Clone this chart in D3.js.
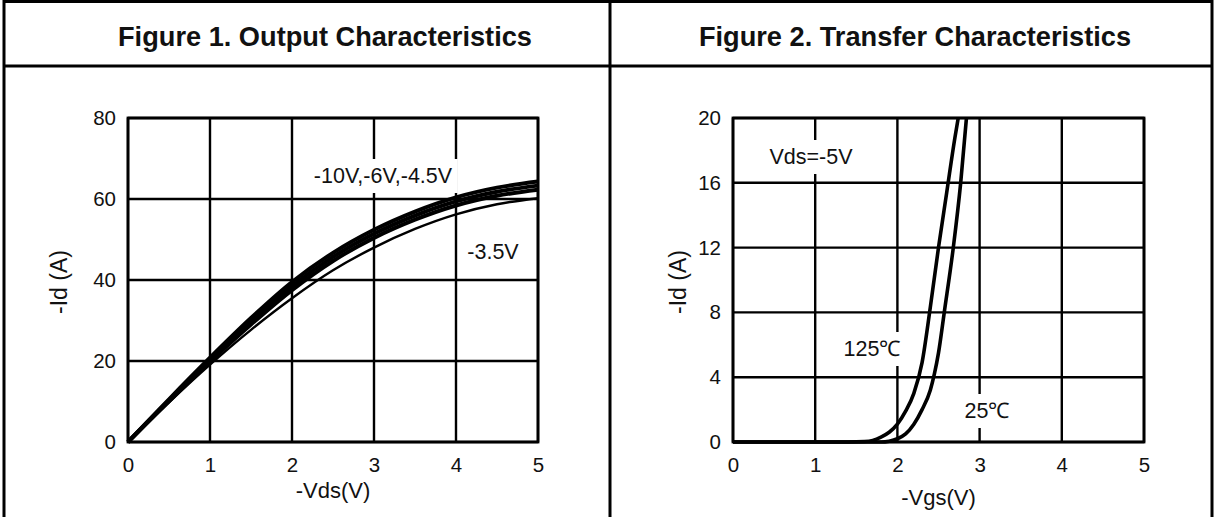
<!DOCTYPE html>
<html><head><meta charset="utf-8">
<script src="https://cdn.jsdelivr.net/npm/d3@7"></script>
<style>body{margin:0;background:#fff}svg{display:block;font-family:"Liberation Sans",Arial,sans-serif}</style>
</head><body><svg id="c" width="1215" height="517"></svg>
<script>
// ---- Data ----
const titles = ["Figure 1. Output Characteristics", "Figure 2. Transfer Characteristics"];
const vdsTicks = [0, 1, 2, 3, 4, 5];
const idTicksL = [0, 20, 40, 60, 80];
const vgsTicks = [0, 1, 2, 3, 4, 5];
const idTicksR = [0, 4, 8, 12, 16, 20];

const vds = [0, 0.5, 1, 1.5, 2, 2.5, 3, 3.5, 4, 4.5, 5];
const id_m10V = [0, 10.55, 20.8, 30.6, 39.5, 46.7, 52.4, 56.9, 60.4, 62.8, 64.3];
const id_m6V  = [0, 10.3, 20.3, 29.8, 38.5, 45.7, 51.4, 55.9, 59.4, 61.8, 63.3];
const id_m45V = [0, 10.05, 19.8, 29.0, 37.5, 44.7, 50.4, 54.9, 58.4, 60.8, 62.3];
const id_m35V = [0, 9.8, 19.1, 27.7, 35.5, 42.4, 48.0, 52.6, 56.2, 58.7, 60.2];

const vgs125 = [0, 1.4, 1.6, 1.7, 1.8, 1.9, 2.0, 2.1, 2.2, 2.3, 2.4, 2.5, 2.6, 2.7, 2.74];
const id125  = [0, 0, 0.03, 0.1, 0.3, 0.6, 1.1, 1.9, 3.0, 4.9, 8.3, 12.0, 15.4, 18.8, 20];
const vgs25  = [0, 1.8, 1.9, 2.0, 2.1, 2.2, 2.3, 2.4, 2.45, 2.5, 2.57, 2.68, 2.77, 2.84];
const id25   = [0, 0, 0.05, 0.2, 0.5, 1.1, 2.0, 3.2, 4.2, 5.5, 8.0, 12.0, 16.0, 20];

const svg = d3.select("#c");
const ink = "#111";

// ---- Table frame ----
const frame = svg.append("g").attr("stroke", "#000").attr("stroke-width", 3);
frame.append("line").attr("x1", 3).attr("x2", 1213).attr("y1", 1.5).attr("y2", 1.5);
frame.append("line").attr("x1", 3).attr("x2", 1213).attr("y1", 66).attr("y2", 66);
[4, 610, 1212].forEach(x => frame.append("line").attr("x1", x).attr("x2", x).attr("y1", 0).attr("y2", 517));

svg.selectAll("text.title").data(titles).join("text").attr("class", "title")
  .attr("x", (d, i) => i === 0 ? 325 : 915).attr("y", 46).attr("text-anchor", "middle")
  .attr("font-size", 27.2).attr("font-weight", "bold").attr("fill", ink).text(d => d);

function panel(cfg) {
  const g = svg.append("g");
  const x = d3.scaleLinear().domain([0, 5]).range([cfg.x0, cfg.x1]);
  const y = d3.scaleLinear().domain([0, cfg.ymax]).range([442, 118]);
  g.append("g").selectAll("line").data(cfg.xt).join("line")
    .attr("x1", d => x(d)).attr("x2", d => x(d)).attr("y1", y(0)).attr("y2", y(cfg.ymax))
    .attr("stroke", "#000").attr("stroke-width", 2.4);
  g.append("g").selectAll("line").data(cfg.yt).join("line")
    .attr("x1", x(0)).attr("x2", x(5)).attr("y1", d => y(d)).attr("y2", d => y(d))
    .attr("stroke", "#000").attr("stroke-width", 2.4);
  g.append("rect").attr("x", x(0)).attr("y", y(cfg.ymax)).attr("width", x(5) - x(0)).attr("height", y(0) - y(cfg.ymax))
    .attr("fill", "none").attr("stroke", "#000").attr("stroke-width", 2.8);
  const ax = g.append("g").attr("transform", `translate(0,${y(0)})`)
    .call(d3.axisBottom(x).tickValues(cfg.xt).tickSize(0).tickPadding(15).tickFormat(d3.format("d")));
  ax.select(".domain").remove();
  ax.attr("font-size", 20.5).attr("font-family", "Liberation Sans, Arial");
  ax.selectAll("text").attr("fill", ink);
  const ay = g.append("g").attr("transform", `translate(${x(0)},0)`)
    .call(d3.axisLeft(y).tickValues(cfg.yt).tickSize(0).tickPadding(12).tickFormat(d3.format("d")));
  ay.select(".domain").remove();
  ay.attr("font-size", 20.5).attr("font-family", "Liberation Sans, Arial");
  ay.selectAll("text").attr("fill", ink);
  g.append("text").attr("x", (x(0) + x(5)) / 2).attr("y", cfg.xTitleY).attr("text-anchor", "middle")
    .attr("font-size", 22).attr("fill", ink).text(cfg.xTitle);
  g.append("text").attr("transform", `translate(${cfg.yTitleX},282) rotate(-90)`)
    .attr("text-anchor", "middle").attr("font-size", 23).attr("fill", ink).text("-Id (A)");
  return {g, x, y};
}

function label(g, txt, cx, baseline, size, pad) {
  const t = g.append("text").attr("x", cx).attr("y", baseline).attr("text-anchor", "middle")
    .attr("font-size", size).attr("fill", ink).text(txt);
  if (pad > 0) {
    const b = t.node().getBBox();
    g.insert("rect", () => t.node()).attr("x", b.x - pad).attr("y", b.y - pad).attr("width", b.width + 2 * pad)
      .attr("height", b.height + 2 * pad).attr("fill", "#fff");
  }
}

// ---- Figure 1 ----
const L = panel({x0: 128, x1: 538, ymax: 80, xt: vdsTicks, yt: idTicksL, xTitle: "-Vds(V)", xTitleY: 498, yTitleX: 67});
const lineL = d3.line().x(d => L.x(d[0])).y(d => L.y(d[1])).curve(d3.curveMonotoneX);
L.g.append("path").attr("d", lineL(vds.map((v, i) => [v, id_m35V[i]]))).attr("fill", "none").attr("stroke", "#000").attr("stroke-width", 2.4);
[id_m10V, id_m6V, id_m45V].forEach(s =>
  L.g.append("path").attr("d", lineL(vds.map((v, i) => [v, s[i]]))).attr("fill", "none").attr("stroke", "#000").attr("stroke-width", 4));
label(L.g, "-10V,-6V,-4.5V", 383, 183, 21.5, 5);
label(L.g, "-3.5V", 493, 259, 21.5, 0);

// ---- Figure 2 ----
const R = panel({x0: 733, x1: 1144, ymax: 20, xt: vgsTicks, yt: idTicksR, xTitle: "-Vgs(V)", xTitleY: 505, yTitleX: 686});
const lineR = d3.line().x(d => R.x(d[0])).y(d => R.y(d[1])).curve(d3.curveMonotoneX);
R.g.append("path").attr("d", lineR(vgs125.map((v, i) => [v, id125[i]]))).attr("fill", "none").attr("stroke", "#000").attr("stroke-width", 3.6);
R.g.append("path").attr("d", lineR(vgs25.map((v, i) => [v, id25[i]]))).attr("fill", "none").attr("stroke", "#000").attr("stroke-width", 3.6);
label(R.g, "Vds=-5V", 811, 164, 21.5, 5);
label(R.g, "125℃", 872, 356, 21.5, 5);
label(R.g, "25℃", 987, 418, 21.5, 5);
</script></body></html>
